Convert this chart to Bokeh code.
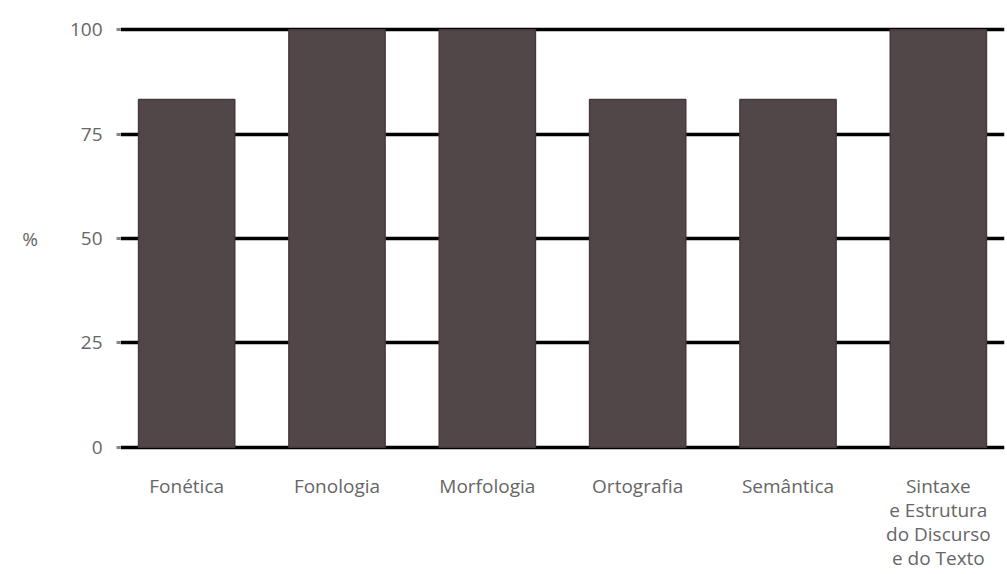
from bokeh.plotting import figure
from bokeh.models import Range1d, FixedTicker, ColumnDataSource
from bokeh.embed import file_html
from bokeh.resources import INLINE

categories = ["Fonética", "Fonologia", "Morfologia", "Ortografia", "Semântica",
              "Sintaxe\ne Estrutura\ndo Discurso\ne do Texto"]
values = [83.3, 100, 100, 83.3, 83.3, 100]
y_ticks = [0, 25, 50, 75, 100]

xs = list(range(len(categories)))
src = ColumnDataSource(dict(x=xs, top=values))

p = figure(width=1007, height=574, output_backend="svg", toolbar_location=None,
           x_range=Range1d(-0.44, len(categories) - 1 + 0.44),
           y_range=Range1d(-1, 101),
           min_border_left=120, min_border_right=3, min_border_top=25,
           min_border_bottom=123)
p.outline_line_color = None
p.background_fill_color = "white"

p.vbar(x="x", top="top", bottom=0, width=0.64, source=src,
       fill_color="#524748", line_color="#45393c", line_width=1.5)

p.xgrid.visible = False
p.ygrid.ticker = FixedTicker(ticks=y_ticks)
p.ygrid.grid_line_color = "black"
p.ygrid.grid_line_width = 3.5
p.ygrid.level = "underlay"

p.yaxis.ticker = FixedTicker(ticks=y_ticks)
p.yaxis.axis_line_color = None
p.yaxis.major_tick_in = 0
p.yaxis.major_tick_out = 4
p.yaxis.major_tick_line_color = "#888888"
p.yaxis.major_tick_line_width = 3
p.yaxis.minor_tick_line_color = None
p.yaxis.major_label_standoff = 14
p.yaxis.major_label_text_font = "Open Sans"
p.yaxis.major_label_text_font_size = "19px"
p.yaxis.major_label_text_color = "#666666"
p.yaxis.axis_label = "%"
p.yaxis.axis_label_orientation = "horizontal"
p.yaxis.axis_label_standoff = 29
p.yaxis.axis_label_text_font = "Open Sans"
p.yaxis.axis_label_text_font_style = "normal"
p.yaxis.axis_label_text_font_size = "19px"
p.yaxis.axis_label_text_color = "#666666"

p.xaxis.ticker = FixedTicker(ticks=xs)
p.xaxis.major_label_overrides = {i: c for i, c in zip(xs, categories)}
p.xaxis.axis_line_color = None
p.xaxis.major_tick_line_color = None
p.xaxis.minor_tick_line_color = None
p.xaxis.major_label_standoff = 15
p.xaxis.major_label_text_font = "Open Sans"
p.xaxis.major_label_text_font_size = "19px"
p.xaxis.major_label_text_color = "#666666"
p.xaxis.major_label_text_line_height = 0.93

open("out.html", "w").write(file_html(p, INLINE))
